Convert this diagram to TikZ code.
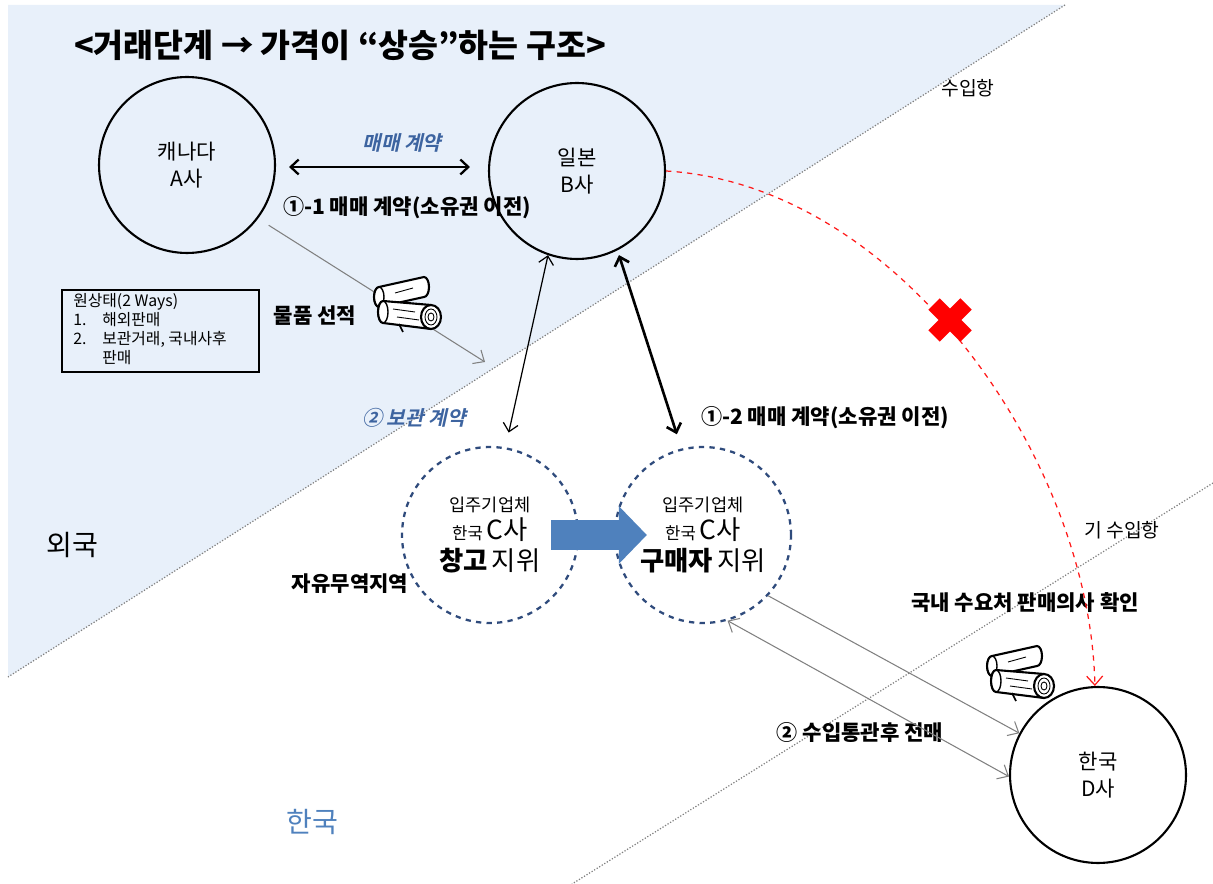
\documentclass[tikz,border=0pt]{standalone}
\usepackage{fontspec}
\setmainfont{Noto Sans CJK KR}
\newfontfamily\dealfont{Noto Sans CJK KR Bold}[FakeSlant=0.22]
\usetikzlibrary{arrows.meta,positioning}

\definecolor{seabg}{HTML}{E8F0FA}
\definecolor{dealblue}{HTML}{3D64A0}
\definecolor{zonenavy}{HTML}{2F4B7C}
\definecolor{flowblue}{HTML}{4F81BD}

\tikzset{
  firm/.style={circle, draw, line width=1.2pt, minimum size=3.52cm,
    align=center, font=\fontsize{12}{15}\selectfont},
  zone/.style={circle, draw=zonenavy, dashed, line width=1.3pt,
    minimum size=3.52cm, align=center},
  note/.style={font=\bfseries\fontsize{12}{14}\selectfont},
  deal/.style={text=dealblue, font=\dealfont\fontsize{11.5}{13}\selectfont},
  plain/.style={font=\fontsize{11}{13}\selectfont},
  region/.style={font=\fontsize{16}{18}\selectfont},
  border/.style={gray, densely dotted, line width=0.7pt},
  barb/.style={{Straight Barb[length=1.6mm,width=3mm]}-{Straight Barb[length=1.6mm,width=3mm]}},
  ship/.style={gray, line width=0.6pt, -{Straight Barb[length=1.8mm,width=3.2mm]}},
  logline/.style={line width=1.2pt, fill=white, line join=round},
}

% a small pile of two logs
\newcommand{\logpile}[1]{%
  \begin{scope}[shift={#1}, yscale=-1]
    \draw[logline] (-28,20) -- (17,30) arc[start angle=90, end angle=-90, x radius=5, y radius=10]
      -- (-28,0) arc[start angle=-90, end angle=-270, x radius=5, y radius=10] -- cycle;
    \draw[line width=0.8pt] (-28,10) ellipse[x radius=5, y radius=10];
    \draw[logline] (-24,6) -- (24,2) -- (24,-22) -- (-24,-16)
      arc[start angle=-90, end angle=-270, x radius=5, y radius=11] -- cycle;
    \draw[line width=0.8pt] (-24,-5) ellipse[x radius=5, y radius=11];
    \draw[line width=0.5pt] (-14,-2) -- (8,-5) (-10,-10) -- (12,-13) (-12,14) -- (6,19);
    \draw[logline] (24,-10) ellipse[x radius=10, y radius=12];
    \draw[line width=0.5pt] (24,-10) ellipse[x radius=6, y radius=8] (24,-10) ellipse[x radius=3, y radius=4];
    \draw[line width=1pt] (-8,-17) -- (-4,-25);
  \end{scope}}

\begin{document}
\begin{tikzpicture}[x=0.02cm, y=-0.02cm]
\useasboundingbox (0,0) rectangle (1213,884);

% sea side and the two port lines
\fill[seabg] (8,5) -- (1065,5) -- (8,677) -- cycle;
\draw[border] (1065,5) -- (8,677);
\draw[border] (1213,483) -- (572,884);

\node[font=\bfseries\fontsize{18.5}{21}\selectfont] (title) at (340,45) {<거래단계 → 가격이 “상승”하는 구조>};

% companies
\node[firm] (A) at (187,165) {캐나다\\A사};
\node[firm] (B) at (577,171) {일본\\B사};
\node[firm] (D) at (1098,775) {한국\\D사};
\node[zone] (C1) at (490,535) {\fontsize{10}{14}\selectfont 입주기업체\\[2pt]
  {\fontsize{9.5}{14}\selectfont 한국} {\fontsize{15}{18}\selectfont C사}\\[3pt]
  {\fontsize{15}{18}\selectfont\bfseries 창고} {\fontsize{15}{18}\selectfont 지위}};
\node[zone] (C2) at (703,535) {\fontsize{10}{14}\selectfont 입주기업체\\[2pt]
  {\fontsize{9.5}{14}\selectfont 한국} {\fontsize{15}{18}\selectfont C사}\\[3pt]
  {\fontsize{15}{18}\selectfont\bfseries 구매자} {\fontsize{15}{18}\selectfont 지위}};

% labels
\node[plain] (port) at (968,88) {수입항};
\node[plain] (oldport) at (1122,530) {기 수입항};
\node[deal] (sale) at (402,143) {매매 계약};
\node[note] (own1) at (407,208) {①-1 매매 계약(소유권 이전)};
\node[note] (load) at (315,316) {물품 선적};
\node[deal] (keep) at (414,418) {② 보관 계약};
\node[note] (own2) at (825,418) {①-2 매매 계약(소유권 이전)};
\node[note] (ftz) at (350,584) {자유무역지역};
\node[note] (check) at (1025,603) {국내 수요처 판매의사 확인};
\node[note] (resale) at (860,732) {② 수입통관후 전매};
\node[region] (abroad) at (72,545) {외국};
\node[region, text=flowblue] (home) at (312,822) {한국};

\node[draw, line width=0.7pt, minimum width=3.94cm, minimum height=1.64cm] (ways) at (160.5,331) {};
\node[anchor=north west, align=left, inner sep=0pt, font=\fontsize{9}{10.8}\selectfont] (waystext) at (73,293)
  {원상태(2 Ways)\\\makebox[0.58cm][l]{1.}해외판매\\\makebox[0.58cm][l]{2.}보관거래, 국내사후\\\hspace{0.58cm}판매};

% contracts and flows
\draw[barb, line width=1.3pt] ([shift={(13,2)}]A.east) -- ([shift={(-18,-4)}]B.west);
\coordinate (shipend) at (485,362);
\draw[ship, shorten <=0.25cm] (A.-37) -- (shipend);
\draw[barb, line width=0.7pt, shorten >=0.3cm] (B.-109) -- (C1.80);
\draw[barb, line width=1.5pt, shorten <=0.1cm, shorten >=0.3cm] (B.-63) -- (C2.104);
\draw[flowblue, line width=0.6cm, -{Triangle[length=0.56cm, width=1.12cm]},
  shorten <=-0.56cm, shorten >=-0.66cm] (C1.east) -- (C2.west);
\draw[ship] (C2.-43) -- (D.152);
\draw[ship, {Straight Barb[length=1.8mm,width=3.2mm]}-{Straight Barb[length=1.8mm,width=3.2mm]}] (C2.-74) -- (D.181);

% direct import route that is not used
\draw[red!90!white, dashed, line width=0.7pt, -{Straight Barb[length=1.8mm,width=3.2mm]}]
  (B.east) .. controls (900,185) and (1090,460) .. (D.92);
\coordinate (stop) at (950,320);
\draw[red, line width=0.32cm] ([shift={(-16,-16)}]stop) -- ([shift={(16,16)}]stop)
  ([shift={(-16,16)}]stop) -- ([shift={(16,-16)}]stop);

\logpile{(407,307)}
\logpile{(1020,676)}
\end{tikzpicture}
\end{document}
